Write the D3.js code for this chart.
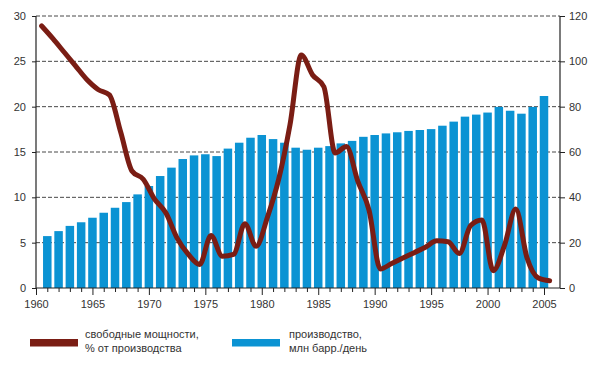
<!DOCTYPE html>
<html><head><meta charset="utf-8">
<script src="https://cdn.jsdelivr.net/npm/d3@7"></script>
<style>
body{margin:0;background:#fff;}
text{font-family:"Liberation Sans",Arial,sans-serif;fill:#333;}
</style></head>
<body>
<svg id="c" width="600" height="381"></svg>
<script>
// Production, mln bbl/day (right axis), 1961-2005
const prodYears = d3.range(1961, 2006);
const production = [22.9,25.1,27.4,29.0,31.0,33.2,35.4,37.9,41.3,45.0,
  49.4,53.1,56.9,58.5,59.0,58.2,61.5,64.1,66.3,67.5,
  65.7,64.1,61.9,61.0,61.9,62.6,63.8,64.9,66.7,67.5,
  68.2,68.7,69.3,69.7,70.1,71.6,73.4,75.6,76.5,77.4,
  79.9,78.2,76.9,79.9,84.7];
// Spare capacity, % of production (left axis), 1960-2005
const spareYears = d3.range(1960, 2006);
const spare = [28.9,27.5,26.0,24.5,23.0,21.9,21.3,17.2,12.9,12.0,
  9.8,8.3,5.5,3.7,2.6,5.8,3.5,3.7,7.1,4.6,
  7.8,12.0,18.0,25.7,23.5,22.2,14.9,15.6,11.8,8.6,
  2.1,2.7,3.3,3.9,4.5,5.2,5.1,3.8,6.9,7.5,
  1.9,4.7,8.7,3.3,1.1,0.8];
const leftTicks = [0,5,10,15,20,25,30];
const rightTicks = [0,20,40,60,80,100,120];
const xTickYears = d3.range(1960, 2006);
const legendLabels = [["свободные мощности,","% от производства"],["производство,","млн барр./день"]];

const RED = "#7a1d14", BLUE = "#0b93d3";
const svg = d3.select("#c");
const x = d3.scaleLinear().domain([1960, 2005]).range([36, 544]);
const yL = d3.scaleLinear().domain([0, 30]).range([288, 16]);
const yR = d3.scaleLinear().domain([0, 120]).range([288, 16]);
const xLeft = 36, xRight = 560;

// gridlines
svg.append("g").selectAll("line").data(leftTicks.filter(d=>d>0)).join("line")
  .attr("x1", xLeft).attr("x2", xRight).attr("y1", d=>yL(d)).attr("y2", d=>yL(d))
  .attr("stroke", "#333").attr("stroke-width", 0.9).attr("stroke-dasharray", "4,2");

// bars
const bw = 8.5;
svg.append("g").selectAll("rect").data(prodYears).join("rect")
  .attr("x", (d)=>x(d)-bw/2).attr("width", bw)
  .attr("y", (d,i)=>yR(production[i])).attr("height", (d,i)=>yR(0)-yR(production[i]))
  .attr("fill", BLUE);

// line
const line = d3.line().x((d)=>x(d[0]+0.5)).y(d=>yL(d[1])).curve(d3.curveMonotoneX);
svg.append("path").datum(spareYears.map((y,i)=>[y, spare[i]]))
  .attr("d", line).attr("fill","none").attr("stroke", RED).attr("stroke-width", 5)
  .attr("stroke-linejoin","round").attr("stroke-linecap","round");

// left axis
const gl = svg.append("g").attr("transform", `translate(${xLeft},0)`)
  .call(d3.axisLeft(yL).tickValues(leftTicks).tickSize(4).tickPadding(6));
gl.select(".domain").remove();
gl.selectAll("line").attr("stroke","#222");
gl.selectAll("text").style("font-size","11px").attr("fill","#333");
svg.append("line").attr("x1",xLeft).attr("x2",xLeft).attr("y1",yL(30)).attr("y2",yL(0)).attr("stroke","#222").attr("stroke-width",1.2);

// right axis
const gr = svg.append("g").attr("transform", `translate(${xRight},0)`)
  .call(d3.axisRight(yR).tickValues(rightTicks).tickSize(5).tickPadding(4));
gr.select(".domain").remove();
gr.selectAll("line").attr("stroke","#222");
gr.selectAll("text").style("font-size","11px").attr("fill","#333");
svg.append("line").attr("x1",xRight).attr("x2",xRight).attr("y1",yR(120)).attr("y2",yR(0)).attr("stroke","#222").attr("stroke-width",1.2);

// bottom axis
const gb = svg.append("g").attr("transform", `translate(0,${yL(0)})`)
  .call(d3.axisBottom(x).tickValues(xTickYears).tickSize(4).tickPadding(8)
    .tickFormat(d => d % 5 === 0 ? String(d) : ""));
gb.select(".domain").remove();
gb.selectAll(".tick line").attr("stroke","#222").attr("y2", d => d % 5 === 0 ? 7 : 4);
gb.selectAll("text").style("font-size","11px").attr("fill","#333");
svg.append("line").attr("x1",xLeft).attr("x2",xRight).attr("y1",yL(0)).attr("y2",yL(0)).attr("stroke","#222").attr("stroke-width",1.2);

// legend
const lg = svg.append("g");
lg.append("rect").attr("x",30).attr("y",339).attr("width",48).attr("height",7.5).attr("fill",RED);
lg.append("rect").attr("x",232).attr("y",339).attr("width",48).attr("height",7.5).attr("fill",BLUE);
[[85,legendLabels[0]],[289,legendLabels[1]]].forEach(([lx,lines])=>{
  const t = lg.append("text").attr("x",lx).attr("y",338).style("font-size","11px");
  lines.forEach((s,i)=>t.append("tspan").attr("x",lx).attr("dy", i===0?0:14).text(s));
});
</script>
</body></html>
